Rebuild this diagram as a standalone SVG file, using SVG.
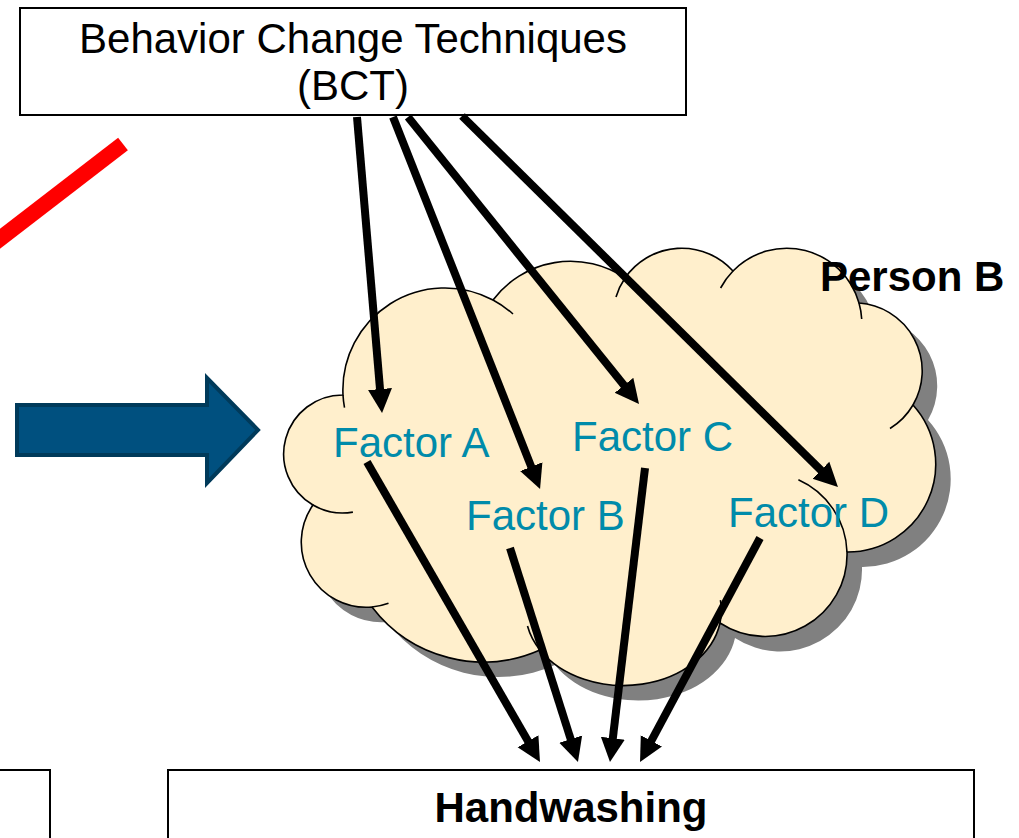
<svg xmlns="http://www.w3.org/2000/svg" width="1019" height="838" viewBox="0 0 1019 838">
  <style>
    .box { fill: #ffffff; stroke: #000000; stroke-width: 2; }
    .label { font-family: "Liberation Sans", Arial, sans-serif; font-size: 42px; fill: #000000; }
    .bold { font-weight: bold; }
    .factor { font-family: "Liberation Sans", Arial, sans-serif; font-size: 42px; fill: #008BAA; }
    .cloud { fill: #FFEFCC; stroke: #000000; stroke-width: 1.6; }
    .shadow { fill: #808080; }
    .seam { fill: none; stroke: #000000; stroke-width: 1.6; }
    .link { stroke: #000000; stroke-width: 8; fill: none; marker-end: url(#head); }
  </style>
  <defs>
    <marker id="head" markerUnits="userSpaceOnUse" markerWidth="26" markerHeight="26" viewBox="0 -13 26 26" refX="1" refY="0" orient="auto">
      <path d="M0,-12 L24,0 L0,12 Z" fill="#000000"/>
    </marker>
    <path id="cloudShape" d="M343 395 A102 102 0 0 1 493 300 A97 97 0 0 1 625 278 A69 69 0 0 1 733 271 A75 75 0 0 1 859 303 A68 68 0 0 1 913 405 A88 88 0 0 1 847 552 A82 82 0 0 1 720 623 A98 75 0 0 1 540 650 A140 140 0 0 1 372 607 A65 65 0 0 1 313 505 A59 59 0 0 1 343 395 Z"/>
  </defs>

  <!-- red diagonal stroke at the left edge -->
  <line x1="123" y1="144" x2="-12" y2="248" stroke="#FF0000" stroke-width="16"/>

  <!-- wide blue arrow pointing into the cloud -->
  <path d="M17 405 L207 405 L207 378 L258 430 L207 483 L207 455 L17 455 Z" fill="#00507F" stroke="#003A5A" stroke-width="4" stroke-linejoin="miter"/>

  <!-- Person B cloud -->
  <g id="person-b">
    <use href="#cloudShape" class="shadow" transform="translate(15 15)"/>
    <use href="#cloudShape" class="cloud"/>
    <g class="seam">
      <path d="M344.5 407.7 A102 102 0 0 1 343 395"/>
      <path d="M493 300 A102 102 0 0 1 513 314"/>
      <path d="M616 297 A69 69 0 0 1 625 278"/>
      <path d="M720.6 288 A75 75 0 0 1 733 271"/>
      <path d="M859 303 A75 75 0 0 1 861.7 319"/>
      <path d="M913 405 A68 68 0 0 1 890 428.5"/>
      <path d="M798.4 479.8 A82 82 0 0 1 847 552"/>
      <path d="M720.4 600.2 A98 75 0 0 1 720 623"/>
      <path d="M540 650 A98 75 0 0 1 527.5 626"/>
      <path d="M388.5 603.3 A65 65 0 0 1 372 607"/>
      <path d="M352.9 512.1 A59 59 0 0 1 313 505"/>
    </g>
    <text class="label bold" x="820" y="291">Person B</text>
  </g>

  <g id="factor-a"><text class="factor" x="333" y="457">Factor A</text></g>
  <g id="factor-b"><text class="factor" x="466" y="530">Factor B</text></g>
  <g id="factor-c"><text class="factor" x="572" y="451">Factor C</text></g>
  <g id="factor-d"><text class="factor" x="728" y="527">Factor D</text></g>

  <g id="bct">
    <rect class="box" x="20" y="8" width="666" height="107"/>
    <text class="label" x="353" y="53" text-anchor="middle">Behavior Change Techniques</text>
    <text class="label" x="353" y="100" text-anchor="middle">(BCT)</text>
  </g>

  <g id="handwashing">
    <rect class="box" x="168" y="770" width="806" height="80"/>
    <text class="label bold" x="571" y="822" text-anchor="middle">Handwashing</text>
  </g>

  <g id="left-box">
    <rect class="box" x="-10" y="770" width="60" height="80"/>
  </g>

  <g id="connectors">
    <line class="link" x1="357" y1="117" x2="380.1" y2="390.1"/>
    <line class="link" x1="393" y1="117" x2="531.6" y2="467.6"/>
    <line class="link" x1="408" y1="117" x2="624.6" y2="386.1"/>
    <line class="link" x1="462" y1="116" x2="821.6" y2="470.9"/>
    <line class="link" x1="367" y1="462" x2="528.5" y2="742.1"/>
    <line class="link" x1="510" y1="548" x2="571.0" y2="740.1"/>
    <line class="link" x1="645" y1="468" x2="612.7" y2="739.2"/>
    <line class="link" x1="760" y1="538" x2="650.9" y2="741.7"/>
  </g>
</svg>
